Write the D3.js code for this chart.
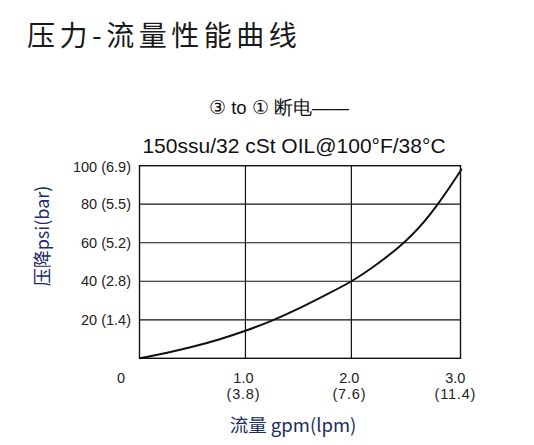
<!DOCTYPE html>
<html><head><meta charset="utf-8">
<script src="https://cdn.jsdelivr.net/npm/d3@7"></script>
<style>body{margin:0;background:#fff}svg{display:block}</style>
</head><body>
<svg id="c" width="534" height="445"></svg>
<script>
const flowGpm = [0, 0.25, 0.5, 0.75, 1.0, 1.25, 1.5, 1.75, 2.0, 2.25, 2.5, 2.75, 3.0, 3.03];
const pressurePsi = [0, 2.8, 6, 9.8, 14.3, 19.6, 25.8, 32.7, 40, 49.2, 60.3, 75.2, 94.8, 97.6];
const xTicks = [1, 2, 3];
const xTickTop = ["1.0", "2.0", "3.0"];
const xTickBottom = ["(3.8)", "(7.6)", "(11.4)"];
const yTicks = [20, 40, 60, 80, 100];
const yTickLabels = ["20 (1.4)", "40 (2.8)", "60 (5.2)", "80 (5.5)", "100 (6.9)"];

const svg = d3.select("#c");
const L = 139.5, R = 460.5, T = 165.7, B = 358.3;
const x = d3.scaleLinear().domain([0, 3.03]).range([L, R]);
const y = d3.scaleLinear().domain([0, 100]).range([B, T]);
const cjk = "'Noto Sans CJK SC', 'Noto Sans', sans-serif";
const lat = "'Liberation Sans', Arial, sans-serif";

svg.append("text").attr("x", 27).attr("y", 46).attr("font-family", cjk)
  .attr("font-size", 28).attr("font-weight", 400).attr("fill", "#1a1a1a")
  .attr("letter-spacing", 4.5).text("压力-流量性能曲线");

svg.append("text").attr("x", 279).attr("y", 114).attr("text-anchor", "middle")
  .attr("font-family", lat).attr("font-size", 18.5).attr("fill", "#111")
  .text("③ to ① 断电——");
svg.append("text").attr("x", 294).attr("y", 153).attr("text-anchor", "middle")
  .attr("font-family", lat).attr("font-size", 21).attr("fill", "#111")
  .text("150ssu/32 cSt OIL@100°F/38°C");

// grid
const g = svg.append("g");
g.selectAll("line.h").data(yTicks.slice(0, -1)).join("line")
  .attr("x1", L).attr("x2", R).attr("y1", d => y(d)).attr("y2", d => y(d))
  .attr("stroke", "#111").attr("stroke-width", 1.2);
g.selectAll("line.v").data(xTicks.slice(0, -1)).join("line")
  .attr("y1", T).attr("y2", B).attr("x1", d => x(d)).attr("x2", d => x(d))
  .attr("stroke", "#111").attr("stroke-width", 1.2);
g.append("rect").attr("x", L).attr("y", T).attr("width", R - L).attr("height", B - T)
  .attr("fill", "none").attr("stroke", "#111").attr("stroke-width", 1.4);

// curve
const pts = flowGpm.map((f, i) => [f, pressurePsi[i]]);
svg.append("path").datum(pts)
  .attr("d", d3.line().x(d => x(d[0])).y(d => y(d[1])).curve(d3.curveNatural))
  .attr("fill", "none").attr("stroke", "#111").attr("stroke-width", 2);

// y ticks
svg.selectAll("text.yt").data(yTicks).join("text")
  .attr("x", 131).attr("y", d => y(d) + (d === 100 ? 6 : 5)).attr("text-anchor", "end")
  .attr("font-family", lat).attr("font-size", 14.5).attr("fill", "#222")
  .text((d, i) => yTickLabels[i]);

// x ticks
svg.append("text").attr("x", 121).attr("y", 383).attr("text-anchor", "middle")
  .attr("font-family", lat).attr("font-size", 14.5).attr("fill", "#222").text("0");
svg.selectAll("text.xt").data(xTicks).join("text")
  .attr("x", d => x(d) - 2).attr("y", 383).attr("text-anchor", "middle")
  .attr("font-family", lat).attr("font-size", 14.5).attr("fill", "#222")
  .text((d, i) => xTickTop[i]);
svg.selectAll("text.xb").data(xTicks).join("text")
  .attr("x", d => x(d) - 2).attr("y", 398.5).attr("text-anchor", "middle")
  .attr("font-family", lat).attr("font-size", 14.5).attr("fill", "#222")
  .attr("letter-spacing", 0.8)
  .text((d, i) => xTickBottom[i]);

// axis titles
svg.append("text").attr("x", 293).attr("y", 432).attr("text-anchor", "middle")
  .attr("font-family", cjk).attr("font-size", 18.5).attr("fill", "#1c2c66")
  .text("流量 gpm(lpm)");
svg.append("text").attr("transform", "translate(49,236) rotate(-90)").attr("text-anchor", "middle")
  .attr("font-family", cjk).attr("font-size", 18).attr("fill", "#1c2c66")
  .text("压降psi(bar)");
</script>
</body></html>
